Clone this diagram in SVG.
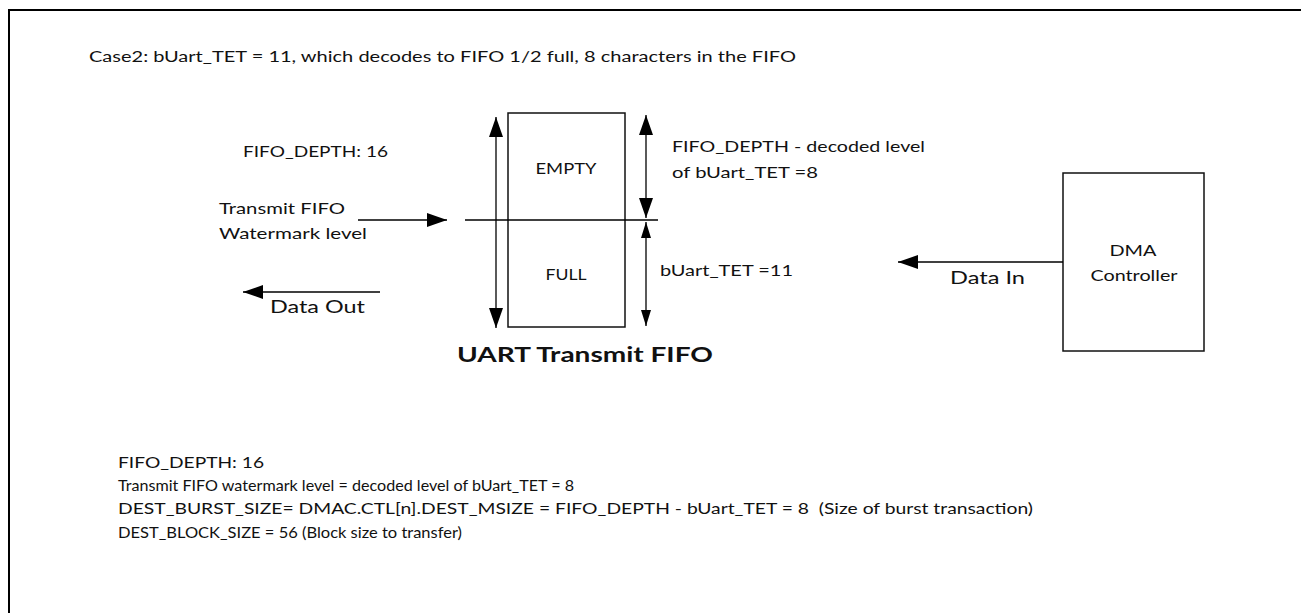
<svg xmlns="http://www.w3.org/2000/svg" width="1301" height="613" viewBox="0 0 1301 613">
<defs>
<marker id="ah" markerUnits="userSpaceOnUse" markerWidth="22" markerHeight="16" refX="20" refY="7" orient="auto-start-reverse" viewBox="0 0 22 16">
<path d="M0,0 L20,7 L0,14 z" fill="#000"/>
</marker>
<marker id="ahs" markerUnits="userSpaceOnUse" markerWidth="18" markerHeight="12" refX="16" refY="5" orient="auto-start-reverse" viewBox="0 0 18 12">
<path d="M0,0 L16,5 L0,10 z" fill="#000"/>
</marker>
</defs>
<style>
text{font-family:Lato,"Liberation Sans",sans-serif;fill:#111;}
.t{font-size:16px;}
.s{font-size:14.5px;}
.b{font-size:18px;}
.h{font-size:21px;font-weight:bold;}
.box{fill:#fff;stroke:#111;stroke-width:1.5;}
.ln{stroke:#000;stroke-width:1.3;fill:none;}
</style>
<rect width="1301" height="613" fill="#fff"/>
<rect x="9" y="10" width="1400" height="700" fill="none" stroke="#000" stroke-width="2"/>

<text class="s" x="89" y="62" textLength="707" lengthAdjust="spacingAndGlyphs">Case2: bUart_TET = 11, which decodes to FIFO 1/2 full, 8 characters in the FIFO</text>

<g id="fifo">
<rect class="box" x="508" y="113" width="117" height="214"/>
<text class="t" x="566" y="174" text-anchor="middle" textLength="61" lengthAdjust="spacingAndGlyphs">EMPTY</text>
<text class="t" x="566" y="280" text-anchor="middle" textLength="41" lengthAdjust="spacingAndGlyphs">FULL</text>
<text class="h" x="585" y="362" text-anchor="middle" textLength="256" lengthAdjust="spacingAndGlyphs">UART Transmit FIFO</text>
</g>

<g id="dma">
<rect class="box" x="1063" y="173" width="141" height="178"/>
<text class="t" x="1133" y="256" text-anchor="middle" textLength="47" lengthAdjust="spacingAndGlyphs">DMA</text>
<text class="t" x="1134" y="281" text-anchor="middle" textLength="87" lengthAdjust="spacingAndGlyphs">Controller</text>
</g>

<g id="labels">
<text class="t" x="243" y="157" textLength="145" lengthAdjust="spacingAndGlyphs">FIFO_DEPTH: 16</text>
<text class="t" x="219" y="214" textLength="126" lengthAdjust="spacingAndGlyphs">Transmit FIFO</text>
<text class="t" x="219" y="239" textLength="148" lengthAdjust="spacingAndGlyphs">Watermark level</text>
<text class="b" x="270" y="313" textLength="95" lengthAdjust="spacingAndGlyphs">Data Out</text>
<text class="t" x="672" y="152" textLength="253" lengthAdjust="spacingAndGlyphs">FIFO_DEPTH - decoded level</text>
<text class="t" x="672" y="178" textLength="146" lengthAdjust="spacingAndGlyphs">of bUart_TET =8</text>
<text class="t" x="660" y="276" textLength="133" lengthAdjust="spacingAndGlyphs">bUart_TET =11</text>
<text class="b" x="950" y="284" textLength="75" lengthAdjust="spacingAndGlyphs">Data In</text>
</g>

<g id="notes">
<text class="t" x="118" y="468" textLength="146" lengthAdjust="spacingAndGlyphs">FIFO_DEPTH: 16</text>
<text class="t" x="118" y="491" textLength="456" lengthAdjust="spacingAndGlyphs">Transmit FIFO watermark level = decoded level of bUart_TET = 8</text>
<text class="t" x="118" y="514" textLength="915" lengthAdjust="spacingAndGlyphs" xml:space="preserve">DEST_BURST_SIZE= DMAC.CTL[n].DEST_MSIZE = FIFO_DEPTH - bUart_TET = 8  (Size of burst transaction)</text>
<text class="t" x="118" y="538" textLength="344" lengthAdjust="spacingAndGlyphs">DEST_BLOCK_SIZE = 56 (Block size to transfer)</text>
</g>

<g id="connectors">
<line class="ln" x1="465" y1="220" x2="658" y2="220"/>
<line class="ln" x1="496" y1="117" x2="496" y2="328" marker-start="url(#ah)" marker-end="url(#ah)"/>
<line class="ln" x1="646" y1="115" x2="646" y2="218" marker-start="url(#ah)" marker-end="url(#ah)"/>
<line class="ln" x1="646" y1="222" x2="646" y2="326" marker-start="url(#ahs)" marker-end="url(#ahs)"/>
<line class="ln" x1="358" y1="220" x2="447" y2="220" marker-end="url(#ah)"/>
<line class="ln" x1="380" y1="292" x2="243" y2="292" marker-end="url(#ah)"/>
<line class="ln" x1="1063" y1="262" x2="898" y2="262" marker-end="url(#ah)"/>
</g>
</svg>
